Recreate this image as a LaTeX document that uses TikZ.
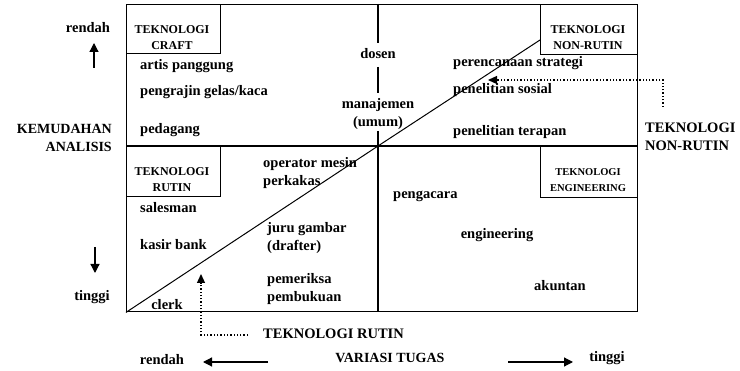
\documentclass[tikz,border=0pt]{standalone}
\usepackage{fontspec}
\setmainfont{Liberation Serif}
\usetikzlibrary{arrows.meta}
\begin{document}
\begin{tikzpicture}[x=1pt,y=-1pt,
  lbl/.style={font=\bfseries\fontsize{14.5}{17.5}\selectfont, inner sep=0pt, align=left},
  caplbl/.style={font=\bfseries\fontsize{14}{18}\selectfont, inner sep=0pt},
  boxlbl/.style={font=\bfseries\fontsize{12}{16}\selectfont, inner sep=0pt, align=center},
  quadbox/.style={draw, line width=1.2pt, inner sep=0pt, anchor=north west},
  frame/.style={line width=1.4pt},
  axisarrow/.style={line width=1.2pt, -{Triangle[length=9pt,width=9pt]}},
  dotarrow/.style={line width=1.3pt, dotted, -{Triangle[length=9pt,width=8pt]}}]
\useasboundingbox (0,0) rectangle (740,371);
\fill[white] (0,0) rectangle (740,371);

% main frame
\node[draw, frame, inner sep=0pt, anchor=north west, minimum width=511pt, minimum height=307pt] (frame) at (126,4) {};
\coordinate (mt) at (378,4);
\coordinate (ml) at (126,146);
\coordinate (mr) at (637,146);
\coordinate (mc) at (378,146);
\coordinate (mb) at (378,311);

% corner boxes
\node[quadbox, minimum width=94pt, minimum height=49pt] (craftbox) at (126,4) {};
\node[boxlbl] (craft) at (172,38) {TEKNOLOGI\\CRAFT};
\node[quadbox, minimum width=97pt, minimum height=50pt] (nrbox) at (540,4) {};
\node[boxlbl] (nr) at (588,38) {TEKNOLOGI\\NON-RUTIN};
\node[quadbox, minimum width=94pt, minimum height=50pt] (rutinbox) at (126,146) {};
\node[boxlbl] (rutin) at (172,180) {TEKNOLOGI\\RUTIN};
\node[quadbox, minimum width=97pt, minimum height=51pt] (engbox) at (540,146) {};
\node[boxlbl, font=\bfseries\fontsize{10.5}{16}\selectfont] (eng) at (588,180) {TEKNOLOGI\\ENGINEERING};

% middle labels and lines
\node[lbl, inner sep=0pt] (dosen) at (378,54) {dosen};
\node[lbl, inner sep=0pt, align=center] (manaj) at (378,114) {manajemen\\(umum)};
\coordinate (v1) at (378,43);
\coordinate (v2) at (378,67);
\coordinate (v3) at (378,93);
\coordinate (v4) at (378,131);
\draw[frame] (mt) -- (v1) (v2) -- (v3) (v4) -- (mc) -- (mb);
\draw[frame] (ml) -- (mr);

% quadrant texts
\node[lbl, anchor=west] (artis) at (140,66) {artis panggung};
\node[lbl, anchor=west] (pengrajin) at (140,92) {pengrajin gelas/kaca};
\node[lbl, anchor=west] (pedagang) at (140,130) {pedagang};
\node[lbl, anchor=west] (salesman) at (140,208) {salesman};
\node[lbl, anchor=west] (kasir) at (140,245) {kasir bank};
\node[lbl] (clerk) at (167,305) {clerk};
\node[lbl, anchor=west] (operator) at (263,173) {operator mesin\\perkakas};
\node[lbl, anchor=west] (juru) at (267,238) {juru gambar\\(drafter)};
\node[lbl, anchor=west] (pemeriksa) at (267,289) {pemeriksa\\pembukuan};
\node[lbl, anchor=west] (strategi) at (453,63) {perencanaan strategi};
\node[lbl, anchor=west] (sosial) at (453,90) {penelitian sosial};
\node[lbl, anchor=west] (terapan) at (453,132) {penelitian terapan};
\node[lbl, anchor=west] (pengacara) at (393,196) {pengacara};
\node[lbl] (engineering) at (497,235) {engineering};
\node[lbl] (akuntan) at (560,286) {akuntan};

% diagonal
\coordinate (diagend) at (540,40);
\draw[line width=1pt] (frame.south west) -- (mc) -- (diagend);

% left axis
\node[lbl] (rendahL) at (88,28) {rendah};
\node[caplbl, anchor=east, align=right] (kemudahan) at (112,138) {KEMUDAHAN\\ANALISIS};
\node[lbl] (tinggiL) at (92,297) {tinggi};
\coordinate (upS) at (94,68);
\coordinate (upE) at (94,43);
\coordinate (dnS) at (95,247);
\coordinate (dnE) at (95,273);
\draw[axisarrow] (upS) -- (upE);
\draw[axisarrow] (dnS) -- (dnE);

% bottom axis
\node[lbl] (rendahB) at (162,360) {rendah};
\node[caplbl] (variasi) at (390,358) {VARIASI TUGAS};
\node[lbl] (tinggiB) at (607,358) {tinggi};
\coordinate (lS) at (268,362);
\coordinate (lE) at (203,362);
\coordinate (rS) at (508,362);
\coordinate (rE) at (573,362);
\draw[axisarrow] (lS) -- (lE);
\draw[axisarrow] (rS) -- (rE);

% pointer labels
\node[lbl, anchor=west] (rtlabel) at (263,334) {TEKNOLOGI RUTIN};
\coordinate (rtcorner) at (201,335);
\coordinate (rttip) at (201,274);
\draw[dotarrow] (rtlabel.west) ++(-15,1) -- (rtcorner) -- (rttip);
\node[lbl, anchor=west] (nrlabel) at (645,137) {TEKNOLOGI\\NON-RUTIN};
\coordinate (nrstart) at (663,107);
\coordinate (nrcorner) at (663,80);
\coordinate (nrtip) at (488,80);
\draw[dotarrow] (nrstart) -- (nrcorner) -- (nrtip);
\end{tikzpicture}
\end{document}
